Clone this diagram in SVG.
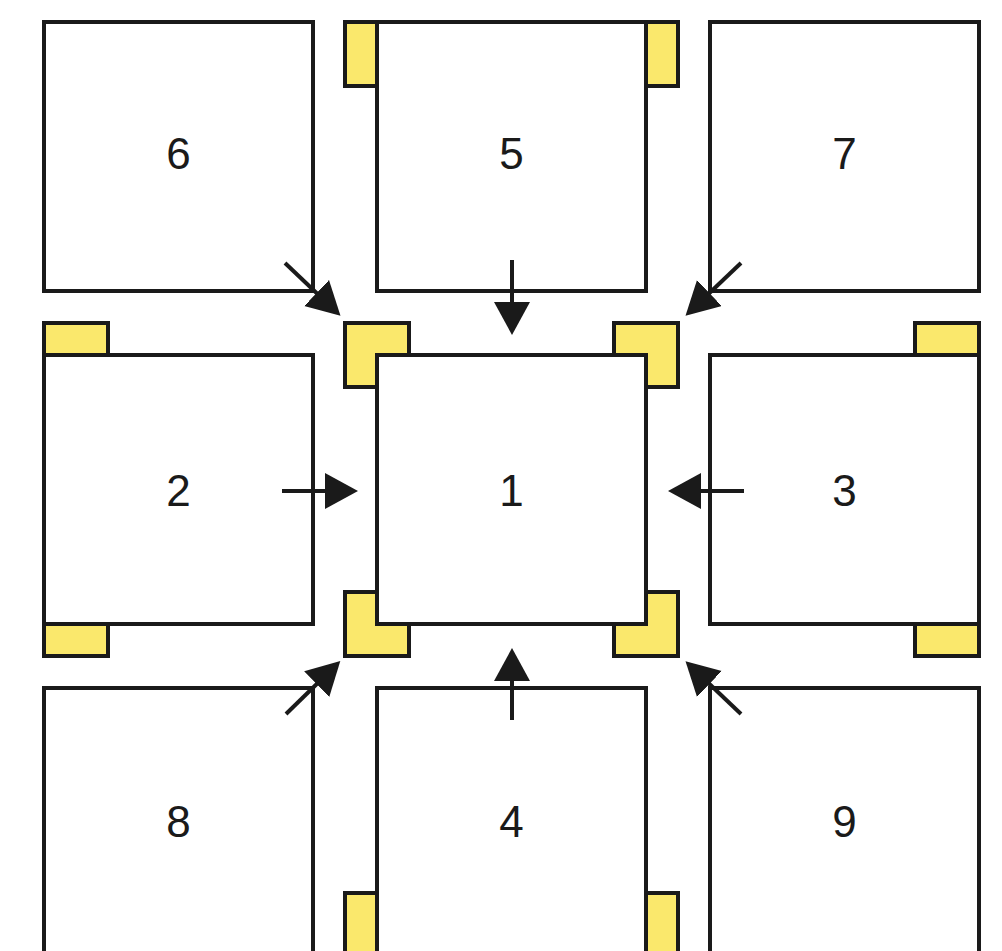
<svg xmlns="http://www.w3.org/2000/svg" width="1002" height="951" viewBox="0 0 1002 951">
<defs>
<style>
.box{fill:#fff;stroke:#1a1a1a;stroke-width:4}
.tab{fill:#fae86c;stroke:#1a1a1a;stroke-width:4;stroke-linejoin:miter}
.lbl{font-family:"Liberation Sans",Arial,sans-serif;font-size:44px;fill:#1a1a1a;text-anchor:middle}
.arr{stroke:#1a1a1a;stroke-width:4;fill:none;marker-end:url(#ah)}
</style>
<marker id="ah" markerUnits="userSpaceOnUse" markerWidth="34" markerHeight="38" refX="13" refY="18" orient="auto">
<path d="M0,0 L33,18 L0,36 Z" fill="#1a1a1a"/>
</marker>
</defs>
<rect width="1002" height="951" fill="#fff"/>
<g id="tabs">
<rect class="tab" x="345" y="22" width="32" height="64"/>
<rect class="tab" x="646" y="22" width="32" height="64"/>
<rect class="tab" x="44" y="323" width="64" height="32"/>
<rect class="tab" x="44" y="624" width="64" height="32"/>
<rect class="tab" x="915" y="323" width="64" height="32"/>
<rect class="tab" x="915" y="624" width="64" height="32"/>
<rect class="tab" x="345" y="893" width="32" height="64"/>
<rect class="tab" x="646" y="893" width="32" height="64"/>
<path class="tab" d="M345,323 H409 V355 H377 V387 H345 Z"/>
<path class="tab" d="M614,323 H678 V387 H646 V355 H614 Z"/>
<path class="tab" d="M345,592 H377 V624 H409 V656 H345 Z"/>
<path class="tab" d="M646,592 H678 V656 H614 V624 H646 Z"/>
</g>
<g id="node6"><rect class="box" x="44" y="22" width="269" height="269"/><text class="lbl" x="178.5" y="169">6</text></g>
<g id="node5"><rect class="box" x="377" y="22" width="269" height="269"/><text class="lbl" x="511.5" y="169">5</text></g>
<g id="node7"><rect class="box" x="710" y="22" width="269" height="269"/><text class="lbl" x="844.5" y="169">7</text></g>
<g id="node2"><rect class="box" x="44" y="355" width="269" height="269"/><text class="lbl" x="178.5" y="506">2</text></g>
<g id="node1"><rect class="box" x="377" y="355" width="269" height="269"/><text class="lbl" x="511.5" y="506">1</text></g>
<g id="node3"><rect class="box" x="710" y="355" width="269" height="269"/><text class="lbl" x="844.5" y="506">3</text></g>
<g id="node8"><rect class="box" x="44" y="688" width="269" height="269"/><text class="lbl" x="178.5" y="837">8</text></g>
<g id="node4"><rect class="box" x="377" y="688" width="269" height="269"/><text class="lbl" x="511.5" y="837">4</text></g>
<g id="node9"><rect class="box" x="710" y="688" width="269" height="269"/><text class="lbl" x="844.5" y="837">9</text></g>
<g id="connectors">
<line class="arr" x1="285" y1="263" x2="326" y2="302"/>
<line class="arr" x1="512" y1="260" x2="512" y2="315"/>
<line class="arr" x1="741" y1="263" x2="700" y2="302"/>
<line class="arr" x1="282" y1="491" x2="338" y2="491"/>
<line class="arr" x1="744" y1="491" x2="688" y2="491"/>
<line class="arr" x1="512" y1="720" x2="512" y2="668"/>
<line class="arr" x1="286" y1="714" x2="326" y2="675"/>
<line class="arr" x1="741" y1="714" x2="700" y2="675"/>
</g>
</svg>
